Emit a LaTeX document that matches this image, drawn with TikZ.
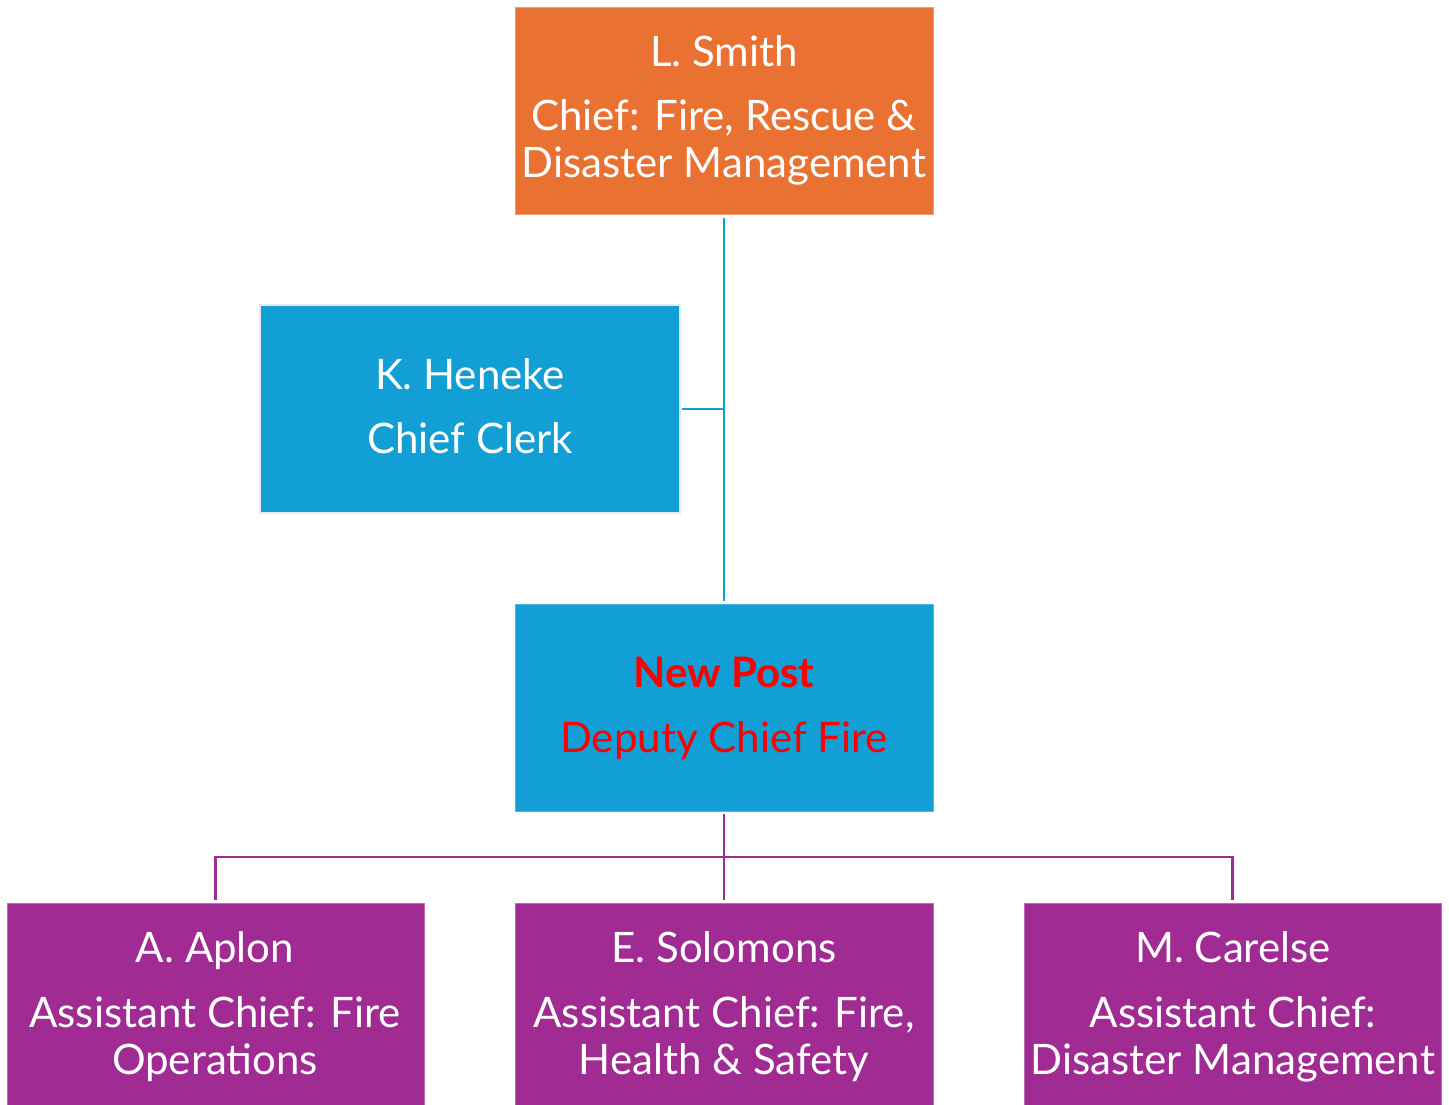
\documentclass[tikz,border=0pt]{standalone}
\usepackage{fontspec}
\setmainfont{Lato}
\definecolor{orgA}{HTML}{E97132}
\definecolor{bluA}{HTML}{119FD6}
\definecolor{purA}{HTML}{A02B93}
\definecolor{redA}{HTML}{FF0000}
\tikzset{
  box/.style={anchor=north west, inner sep=0pt, outer sep=0pt, line width=1pt},
  txt/.style={anchor=base, inner sep=0pt, font=\fontsize{42}{47}\selectfont, text=white},
  bline/.style={draw=bluA, line width=2.2pt},
  pline/.style={draw=purA, line width=2.2pt},
}
\begin{document}
\begin{tikzpicture}[x=1pt,y=-1pt]
\useasboundingbox (0,0) rectangle (1449,1104);
\begin{scope}
\clip (0,0) rectangle (1449,1104);
\node[box, fill=orgA, draw=orgA!70!white, minimum width=418pt, minimum height=207pt] (chief) at (515,7) {};
\node[box, fill=bluA, draw=black!9, line width=2.5pt, minimum width=420pt, minimum height=208pt] (clerk) at (260,305) {};
\node[box, fill=bluA, draw=bluA!75!white, minimum width=418pt, minimum height=207pt] (deputy) at (515,604) {};
\node[box, fill=purA, draw=purA!70!white, minimum width=417pt, minimum height=220pt] (aplon) at (7,903) {};
\node[box, fill=purA, draw=purA!70!white, minimum width=418pt, minimum height=220pt] (solomons) at (515,903) {};
\node[box, fill=purA, draw=purA!70!white, minimum width=417pt, minimum height=220pt] (carelse) at (1024,903) {};
\end{scope}

\node[txt] (t1a) at (724,66) {L. Smith};
\node[txt] (t1b) at (724,130) {Chief: Fire, Rescue \&};
\node[txt] (t1c) at (724,177) {Disaster Management};

\node[txt] (t2a) at (470,389) {K. Heneke};
\node[txt] (t2b) at (470,453) {Chief Clerk};

\node[txt, text=redA, font=\fontsize{42}{47}\selectfont\bfseries] (t3a) at (724,687) {New Post};
\node[txt, text=redA] (t3b) at (724,752) {Deputy Chief Fire};

\node[txt] (t4a) at (215,962) {A. Aplon};
\node[txt] (t4b) at (215,1027) {Assistant Chief: Fire};
\node[txt] (t4c) at (215,1074) {Operations};

\node[txt] (t5a) at (724,962) {E. Solomons};
\node[txt] (t5b) at (724,1027) {Assistant Chief: Fire,};
\node[txt] (t5c) at (724,1074) {Health \& Safety};

\node[txt] (t6a) at (1233,962) {M. Carelse};
\node[txt] (t6b) at (1233,1027) {Assistant Chief:};
\node[txt] (t6c) at (1233,1074) {Disaster Management};

\coordinate (jp) at (724,857);
\draw[bline] ([yshift=-4pt]chief.south) -- ([yshift=3pt]deputy.north);
\draw[bline] ([xshift=2pt]clerk.east) -- (clerk.east -| chief.south);
\draw[pline] ([yshift=-3pt]deputy.south) -- (jp);
\draw[pline] ([yshift=3pt]aplon.north) |- (jp) -| ([yshift=3pt]carelse.north);
\draw[pline] (jp) -- ([yshift=3pt]solomons.north);
\end{tikzpicture}
\end{document}
